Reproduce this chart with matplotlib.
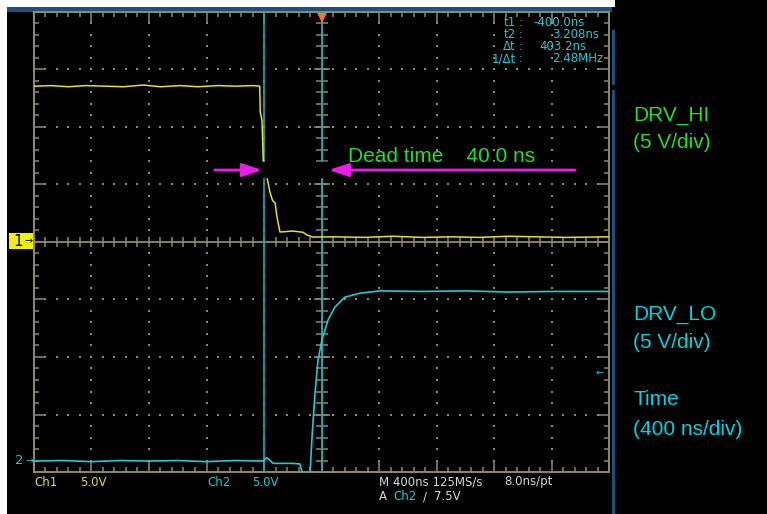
import numpy as np
import matplotlib.pyplot as plt
from matplotlib.patches import Rectangle
from matplotlib.ticker import MultipleLocator

W, H = 767, 514

# scope settings
t_per_div = 400      # ns/div
v_per_div = 5        # V/div
ch2_offset_div = -3.81
t1_cursor = -400.0
t2_cursor = 3.208
trig_level = 7.5

# DRV_HI (ch1), volts vs ns
ch1_t = [-2000, -1880, -1760, -1640, -1500, -1380, -1240, -1120, -980, -860, -720, -600,
         -480, -430, -426, -414, -404, -379, -358, -340, -323, -310, -289, -200, -129,
         -100, -59, 100, 300, 500, 700, 900, 1100, 1300, 1500, 1700, 2000]
ch1_v = [13.55, 13.6, 13.5, 13.6, 13.55, 13.5, 13.65, 13.5, 13.6, 13.5, 13.6, 13.55,
         13.6, 13.55, 11.3, 10.6, 6.5, 5.6, 4.3, 3.6, 3.4, 2.2, 0.87, 0.95, 0.85,
         0.6, 0.43, 0.45, 0.4, 0.5, 0.4, 0.45, 0.4, 0.5, 0.45, 0.4, 0.45]

# DRV_LO (ch2)
ch2_t = [-2000, -1800, -1600, -1400, -1200, -1000, -800, -600, -407, -380, -358, -340,
         -323, -289, -200, -150, -129, -80, -66, -45, -24, 3, 45, 94, 163, 268, 407,
         700, 1000, 1300, 1600, 2000]
ch2_v = [0, 0.05, -0.05, 0.05, 0, 0.05, -0.05, 0.05, 0, 0.3, 0.05, -0.17, -0.2, -0.2,
         -0.2, -0.25, -1.2, -1.2, 2.1, 5.9, 8.8, 10.55, 12.25, 13.4, 14.25, 14.6, 14.8,
         14.75, 14.8, 14.7, 14.75, 14.75]

readout_labels = ["t1", "t2", "\u0394t", "1/\u0394t"]
readout_values = ["-400.0ns", "3.208ns", "403.2ns", "2.48MHz"]

YEL = "#e2e02a"
CYAN = "#26c9d2"
CURSOR = "#1fa7b6"
GRAT = "#8f8a6a"
GREEN = "#22e022"
TXTC = "#00d4e2"
MAG = "#e81ee8"
BLUE = "#1f4f7b"


def fx(x):
    return x / W


def fy(y):
    return 1 - y / H


def box(x0, y0, x1, y1, color):
    fig.add_artist(Rectangle((fx(x0), fy(y1)), (x1 - x0) / W, (y1 - y0) / H,
                             transform=fig.transFigure, color=color, lw=0, zorder=0))


fig = plt.figure(figsize=(W / 100, H / 100), dpi=100, facecolor="black")

# frame of the screenshot
box(0, 0, 7, H, "white")
box(0, 0, 615, 7, "white")
box(7, 7, 612, 12, BLUE)
box(612, 30, 615, 85, BLUE)
box(612, 90, 615, H, BLUE)

ax = fig.add_axes([fx(34), fy(472), 575 / W, 460 / H])
ax.set_facecolor("black")
xmax = 5 * t_per_div
ymax = 4 * v_per_div
ax.set_xlim(-xmax, xmax)
ax.set_ylim(-ymax, ymax)

for s in ax.spines.values():
    s.set_color(GRAT)
    s.set_linewidth(1.4)
ax.xaxis.set_major_locator(MultipleLocator(t_per_div))
ax.xaxis.set_minor_locator(MultipleLocator(t_per_div / 5))
ax.yaxis.set_major_locator(MultipleLocator(v_per_div))
ax.yaxis.set_minor_locator(MultipleLocator(v_per_div / 5))
ax.tick_params(which="both", direction="in", top=True, right=True, color=GRAT,
               labelbottom=False, labelleft=False, width=1.1)
ax.tick_params(which="major", length=8.5)
ax.tick_params(which="minor", length=3.3)

# dotted graticule
minor_x = np.arange(-xmax, xmax + 1, t_per_div / 5)
minor_y = np.arange(-ymax, ymax + 0.1, v_per_div / 5)
for k in [-4, -3, -2, -1, 1, 2, 3, 4]:
    ax.plot(np.full_like(minor_y, k * t_per_div), minor_y, ls="none", marker="s",
            ms=1.5, color=GRAT, mew=0)
for k in [-3, -2, -1, 1, 2, 3]:
    ax.plot(minor_x, np.full_like(minor_x, k * v_per_div), ls="none", marker="s",
            ms=1.5, color=GRAT, mew=0)

# centre cross with ticks
ax.axhline(0, color=GRAT, lw=1.3)
ax.axvline(0, color=GRAT, lw=1.3)
ax.plot(minor_x, np.zeros_like(minor_x), ls="none", marker="|", ms=7.5, mew=1.1, color=GRAT)
ax.plot(np.zeros_like(minor_y), minor_y, ls="none", marker="_", ms=8, mew=1.1, color=GRAT)
maj_y = np.arange(-ymax, ymax + 0.1, v_per_div)
ax.plot(np.zeros_like(maj_y), maj_y, ls="none", marker="_", ms=12, mew=1.1, color=GRAT)

# cursors
ax.axvline(t1_cursor, color=CURSOR, lw=1.2, zorder=3)
ax.axvline(t2_cursor, color=CURSOR, lw=1.2, zorder=3)

# traces
ax.plot(ch1_t, ch1_v, color=YEL, lw=1.1, zorder=4)
ax.plot(ch2_t, np.array(ch2_v) + ch2_offset_div * v_per_div, color=CYAN, lw=1.2, zorder=4)

# trigger position marker
ax.plot(0, ymax - 0.5, marker="v", ms=7, color="#f07a22", mew=0, clip_on=False, zorder=6)

# dead time annotation
y_arr = 6.26
ax.add_patch(Rectangle((-470, 5.65), 2370, 1.31, color="black", zorder=5))
ax.annotate("", xy=(-393, y_arr), xytext=(-762, y_arr),
            arrowprops=dict(arrowstyle="-|>,head_length=1.2,head_width=0.4", color=MAG, lw=2.0),
            zorder=7, annotation_clip=False)
ax.annotate("", xy=(31, y_arr), xytext=(1784, y_arr),
            arrowprops=dict(arrowstyle="-|>,head_length=1.2,head_width=0.4", color=MAG, lw=2.0),
            zorder=7, annotation_clip=False)
fig.text(fx(348), fy(162), "Dead time    40 0 ns", color=GREEN, fontsize=15,
         family="Liberation Sans", va="baseline", zorder=8)

# channel markers
box(9, 233, 33, 249, "#f2f200")
fig.text(fx(18), fy(241.5), "1", color="black", fontsize=11, ha="center", va="center")
fig.text(fx(29), fy(241.5), "\u2192", color="black", fontsize=7, ha="center", va="center")
fig.text(fx(19), fy(461), "2", color=CYAN, fontsize=9.5, ha="center", va="center")
fig.text(fx(30), fy(461), "\u2192", color=CYAN, fontsize=7, ha="center", va="center")
fig.text(fx(600), fy(373), "\u2190", color=CYAN, fontsize=7, ha="center", va="center")

# cursor readout
lab_y = [22.5, 34.5, 46.5, 59]
val_x = [533, 552, 539, 552]
for lab, val, y, x in zip(readout_labels, readout_values, lab_y, val_x):
    fig.text(fx(516), fy(y), lab, color=CYAN, fontsize=8.5, ha="right", va="center")
    fig.text(fx(519), fy(y), ":", color=CYAN, fontsize=8.5, ha="left", va="center")
    fig.text(fx(x), fy(y), val, color=CYAN, fontsize=8.5, ha="left", va="center")

# bottom status
GREY = "#d6d6d6"
fig.text(fx(34), fy(482), "Ch1", color=YEL, fontsize=8.5, va="center")
fig.text(fx(80), fy(482), "5.0V", color=YEL, fontsize=8.5, va="center")
fig.text(fx(207), fy(482), "Ch2", color=CYAN, fontsize=8.5, va="center")
fig.text(fx(252), fy(482), "5.0V", color=CYAN, fontsize=8.5, va="center")
fig.text(fx(379), fy(482), "M 400ns 125MS/s", color=GREY, fontsize=8.5, va="center")
fig.text(fx(504), fy(482), "8.0ns/pt", color=GREY, fontsize=8.5, va="center")
fig.text(fx(379), fy(497), "A", color=GREY, fontsize=8.5, va="center")
fig.text(fx(393), fy(497), "Ch2", color=CYAN, fontsize=8.5, va="center")
fig.text(fx(423), fy(497), "/", color=GREY, fontsize=8.5, va="center")
fig.text(fx(434), fy(497), f"{trig_level}V", color=GREY, fontsize=8.5, va="center")

# labels on the right
lab = dict(fontsize=15, family="Liberation Sans", va="baseline")
fig.text(fx(633), fy(121), "DRV_HI", color=GREEN, **lab)
fig.text(fx(633), fy(148), "(5 V/div)", color=GREEN, **lab)
fig.text(fx(633), fy(320), "DRV_LO", color=TXTC, **lab)
fig.text(fx(633), fy(348), "(5 V/div)", color=TXTC, **lab)
fig.text(fx(633), fy(405), "Time", color=TXTC, **lab)
fig.text(fx(633), fy(435), "(400 ns/div)", color=TXTC, **lab)

fig.savefig("out.png", dpi=100, facecolor="black")
